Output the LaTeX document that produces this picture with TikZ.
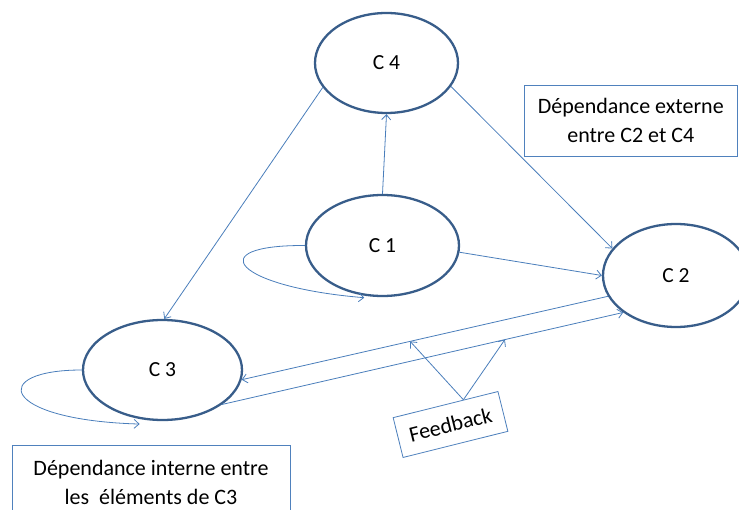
\documentclass[tikz,border=0pt]{standalone}
\usepackage{fontspec}
\setmainfont{Carlito}
\usetikzlibrary{arrows.meta,shapes.geometric,calc}
\definecolor{ellcol}{RGB}{56,93,138}
\definecolor{lncol}{RGB}{74,126,187}
\definecolor{boxcol}{RGB}{79,129,189}
\begin{document}
\begin{tikzpicture}[x=1pt,y=-1pt,
  ell/.style={ellipse, draw=ellcol, line width=2.3pt, fill=white, inner sep=0pt, font=\fontsize{21.5}{25}\selectfont},
  conn/.style={draw=lncol, line width=0.8pt, -{Straight Barb[length=5pt,width=9pt]}},
  txtbox/.style={rectangle, draw=boxcol, line width=0.8pt, fill=white, align=center, inner sep=0pt, font=\fontsize{22}{29.5}\selectfont}]
\useasboundingbox (0,0) rectangle (739,510);
\clip (0,0) rectangle (739,510);

\node[ell, minimum width=143pt, minimum height=100pt] (c4) at (386.5,63) {C 4};
\node[ell, minimum width=153pt, minimum height=101pt] (c1) at (382.5,245.5) {C 1};
\node[ell, minimum width=146pt, minimum height=103pt] (c2) at (676,275.5) {C 2};
\node[ell, minimum width=159pt, minimum height=100pt] (c3) at (162.5,370) {C 3};

\node[txtbox, minimum width=213.5pt, minimum height=71pt] (ext) at (630.75,120.5) {Dépendance externe\\entre C2 et C4};
\node[txtbox, minimum width=278pt, minimum height=75pt] (int) at (151,482.5) {Dépendance interne entre\\les\ \ éléments de C3};
\node[txtbox, minimum width=108pt, minimum height=41pt, rotate=14] (fb) at (450.5,424.5) {Feedback};

% connectors
\draw[conn] (c1.north) -- (c4.south);
\draw[conn] (c4.201) -- (c3.88);
\draw[conn] (c4.340) -- (c2.157);
\draw[conn] (c1.355) -- (c2.west);
\draw[conn] (c2.197) -- (c3.353);
\draw[conn] (c3.330) -- (c2.215);

% self loops
\draw[conn] (c1.west) .. controls (200,245) and (235,287) .. ([yshift=-2pt]c1.250);
\draw[conn] (c3.west) .. controls (-12,370) and (0,420) .. ([yshift=-5pt]c3.245);

% feedback arrows
\coordinate (fbtop) at ($(fb.north west)!0.67!(fb.north east)$);
\path (c2.197) -- (c3.353) coordinate[pos=0.54] (fa1);
\path (c3.330) -- (c2.215) coordinate[pos=0.705] (fa2);
\draw[conn] (fbtop) -- (fa1);
\draw[conn] (fbtop) -- (fa2);
\end{tikzpicture}
\end{document}
